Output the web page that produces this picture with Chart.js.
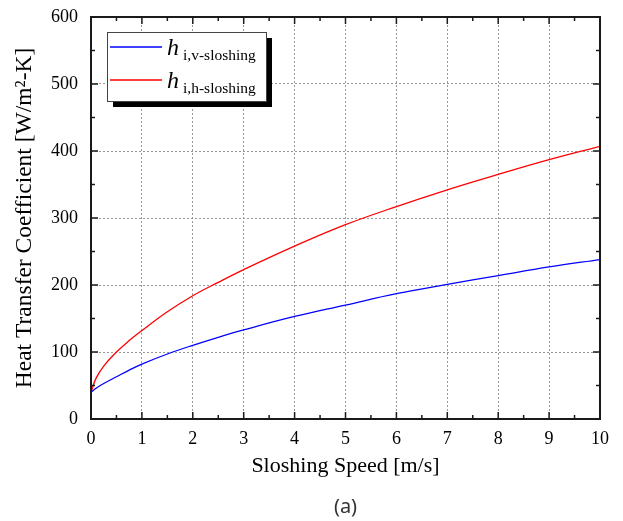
<!DOCTYPE html>
<html>
<head>
<meta charset="utf-8">
<script src="https://cdn.jsdelivr.net/npm/chart.js@4"></script>
<style>
  html, body { margin: 0; padding: 0; background: #fff; }
  #wrap { width: 623px; height: 521px; }
</style>
</head>
<body>
<div id="wrap"><canvas id="graficoSloshing"></canvas></div>
<script>
// sloshing speed [m/s]
const speed = [0, 0.1, 0.25, 0.5, 0.75, 1, 1.5, 2, 2.5, 3, 4, 5, 6, 7, 8, 9, 10];
// h i,v-sloshing (blue)
const hVertical = [40, 46, 53, 63, 73, 82, 97, 110, 122, 133, 153, 170, 187, 201, 214, 227, 238];
// h i,h-sloshing (red)
const hHorizontal = [40, 61, 79, 100, 117, 132, 160, 184, 204, 223, 258, 290, 317, 342, 365, 387, 407];

const legendSub = ['i,v-sloshing', 'i,h-sloshing'];
const xTitle = 'Sloshing Speed [m/s]';
const yTitle = 'Heat Transfer Coefficient [W/m\u00B2-K]';
const caption = '(a)';

const serif = '"Liberation Serif", "Times New Roman", serif';

const toPoints = (ys) => ys.map((y, i) => ({ x: speed[i], y: y }));

// frame + inward ticks on all four sides, legend, caption
const framePlugin = {
    id: 'frame',
    afterDatasetsDraw(chart) {
        const { ctx, chartArea: a, scales: { x, y } } = chart;
        const line = (x1, y1, x2, y2) => {
            ctx.beginPath();
            ctx.moveTo(x1, y1);
            ctx.lineTo(x2, y2);
            ctx.stroke();
        };
        ctx.save();
        ctx.strokeStyle = '#1a1a1a';
        ctx.lineWidth = 1.5;
        for (let v = 0; v <= x.max; v += 0.5) {
            const px = x.getPixelForValue(v);
            const len = v % 1 === 0 ? 7 : 4;
            line(px, a.bottom, px, a.bottom - len);
            line(px, a.top, px, a.top + len);
        }
        for (let v = 0; v <= y.max; v += 50) {
            const py = y.getPixelForValue(v);
            const len = v % 100 === 0 ? 7 : 4;
            line(a.left, py, a.left + len, py);
            line(a.right, py, a.right - len, py);
        }
        ctx.lineWidth = 2;
        ctx.strokeRect(a.left, a.top, a.right - a.left, a.bottom - a.top);
        ctx.restore();
    },
    afterDraw(chart) {
        const { ctx, chartArea: a } = chart;
        ctx.save();
        // legend box with shadow
        const bx = a.left + 16, by = a.top + 15, bw = 159, bh = 69;
        ctx.fillStyle = '#000';
        ctx.fillRect(bx + 6, by + 6, bw, bh);
        ctx.fillStyle = '#fff';
        ctx.fillRect(bx, by, bw, bh);
        ctx.strokeStyle = '#444';
        ctx.lineWidth = 1;
        ctx.strokeRect(bx + 0.5, by + 0.5, bw, bh);
        chart.data.datasets.forEach((ds, i) => {
            const ly = by + 15 + i * 33;
            ctx.strokeStyle = ds.borderColor;
            ctx.lineWidth = 1.3;
            ctx.beginPath();
            ctx.moveTo(bx + 3, ly);
            ctx.lineTo(bx + 55, ly);
            ctx.stroke();
            ctx.fillStyle = '#000';
            ctx.textAlign = 'left';
            ctx.textBaseline = 'alphabetic';
            ctx.font = 'italic 24px ' + serif;
            ctx.fillText('h', bx + 60, ly + 8);
            ctx.font = '15.5px ' + serif;
            ctx.fillText(legendSub[i], bx + 76, ly + 13);
        });
        // caption
        ctx.fillStyle = '#333';
        ctx.font = '20px "Noto Sans", sans-serif';
        ctx.textAlign = 'center';
        ctx.textBaseline = 'middle';
        ctx.fillText(caption, (a.left + a.right) / 2, 507);
        ctx.restore();
    }
};

const ctx1 = document.getElementById('graficoSloshing').getContext('2d');

const graficoSloshing = new Chart(ctx1, {
    type: 'line',
    data: {
        datasets: [{
            label: 'h i,v-sloshing',
            data: toPoints(hVertical),
            borderColor: '#0000ff',
            borderWidth: 1.3,
            pointRadius: 0,
            tension: 0.4,
            fill: false
        },
        {
            label: 'h i,h-sloshing',
            data: toPoints(hHorizontal),
            borderColor: '#ff0000',
            borderWidth: 1.3,
            pointRadius: 0,
            tension: 0.4,
            fill: false
        }]
    },
    options: {
        responsive: true,
        maintainAspectRatio: false,
        animation: false,
        layout: { padding: { top: 17, right: 23, left: 0, bottom: 0 } },
        plugins: {
            legend: { display: false },
            tooltip: { enabled: false }
        },
        scales: {
            x: {
                type: 'linear',
                min: 0,
                max: 10,
                afterFit: (scale) => {
                    scale.height = 102;
                    scale.paddingLeft = 0;
                    scale.paddingRight = 0;
                },
                ticks: {
                    stepSize: 1,
                    padding: 9,
                    color: '#000',
                    font: { family: serif, size: 18 }
                },
                grid: { color: '#999', drawTicks: false },
                border: { display: false, dash: [2, 2] },
                title: {
                    display: true,
                    text: xTitle,
                    color: '#000',
                    font: { family: serif, size: 22 },
                    padding: { top: 0, bottom: 42 }
                }
            },
            y: {
                min: 0,
                max: 600,
                afterFit: (scale) => {
                    scale.width = 91;
                    scale.paddingTop = 0;
                    scale.paddingBottom = 0;
                },
                ticks: {
                    stepSize: 100,
                    padding: 13,
                    color: '#000',
                    font: { family: serif, size: 18 }
                },
                grid: { color: '#999', drawTicks: false },
                border: { display: false, dash: [2, 2] },
                title: {
                    display: true,
                    text: yTitle,
                    color: '#000',
                    font: { family: serif, size: 23.5 },
                    padding: { top: 11, bottom: 0 }
                }
            }
        }
    },
    plugins: [framePlugin]
});
</script>
</body>
</html>
